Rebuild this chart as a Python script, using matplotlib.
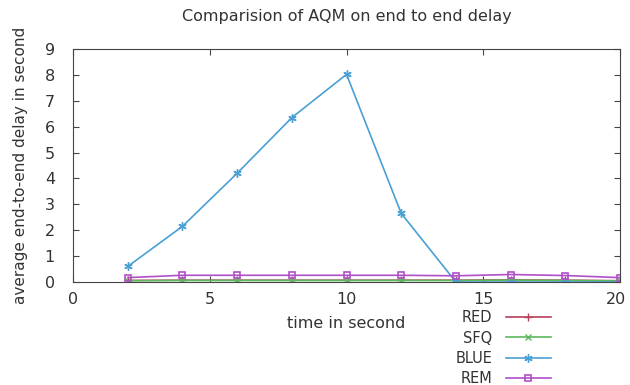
import matplotlib.pyplot as plt
import matplotlib.transforms as mtransforms
import numpy as np

# time in second
t = [2, 4, 6, 8, 10, 12, 14, 16, 18, 20]

red_delay = [0.06, 0.07, 0.07, 0.07, 0.07, 0.07, 0.07, 0.08, 0.07, 0.05]
sfq_delay = [0.05, 0.06, 0.06, 0.06, 0.06, 0.06, 0.06, 0.07, 0.06, 0.04]
blue_delay = [0.6, 2.15, 4.2, 6.35, 8.02, 2.65, 0.0, 0.0, 0.0, 0.0]
rem_delay = [0.17, 0.26, 0.26, 0.26, 0.26, 0.26, 0.24, 0.29, 0.25, 0.17]

txt = '#333333'
plt.rcParams['font.family'] = 'DejaVu Sans'

fig = plt.figure(figsize=(6.3, 3.85), dpi=100)
ax = fig.add_axes([0.1159, 0.2675, 0.8683, 0.6052])

ax.plot(t, red_delay, color='#b8405a', marker='+', ms=6, lw=1.2, label='RED')
ax.plot(t, sfq_delay, color='#5cb85c', marker='x', ms=5, lw=1.2, label='SFQ')
ax.plot(t, blue_delay, color='#4a9fd4', marker=(6, 2, 0), ms=6, lw=1.2, label='BLUE')
ax.plot(t, rem_delay, color='#b050c8', marker='s', ms=5, mfc='none', mew=1.2, lw=1.2, label='REM')

ax.set_xlim(0, 20)
ax.set_ylim(0, 9)
ax.set_xticks(np.arange(0, 21, 5))
ax.set_yticks(np.arange(0, 10, 1))
ax.tick_params(direction='in', top=True, right=True, length=4, colors='#444444',
               labelsize=11.5, labelcolor=txt)
ax.tick_params(axis='y', pad=13)
ax.tick_params(axis='x', pad=7)
for s in ax.spines.values():
    s.set_color('#444444')

# keep the last x tick label inside the figure
last = ax.get_xticklabels()[-1]
last.set_transform(last.get_transform() + mtransforms.ScaledTranslation(-3 / 72, 0, fig.dpi_scale_trans))

ax.set_title('Comparision of AQM on end to end delay', fontsize=11.5, color=txt, pad=20)
ax.set_xlabel('time in second', fontsize=11.5, color=txt, labelpad=7)
ax.set_ylabel('average end-to-end delay in second', fontsize=11, color=txt, labelpad=12)

fig.legend(loc='upper right', bbox_to_anchor=(0.886, 0.213), frameon=False,
           markerfirst=False, fontsize=10.5, labelspacing=0.36, handlelength=3.1,
           handletextpad=0.9, borderpad=0, labelcolor=txt)

fig.savefig('out.png', dpi=100)
